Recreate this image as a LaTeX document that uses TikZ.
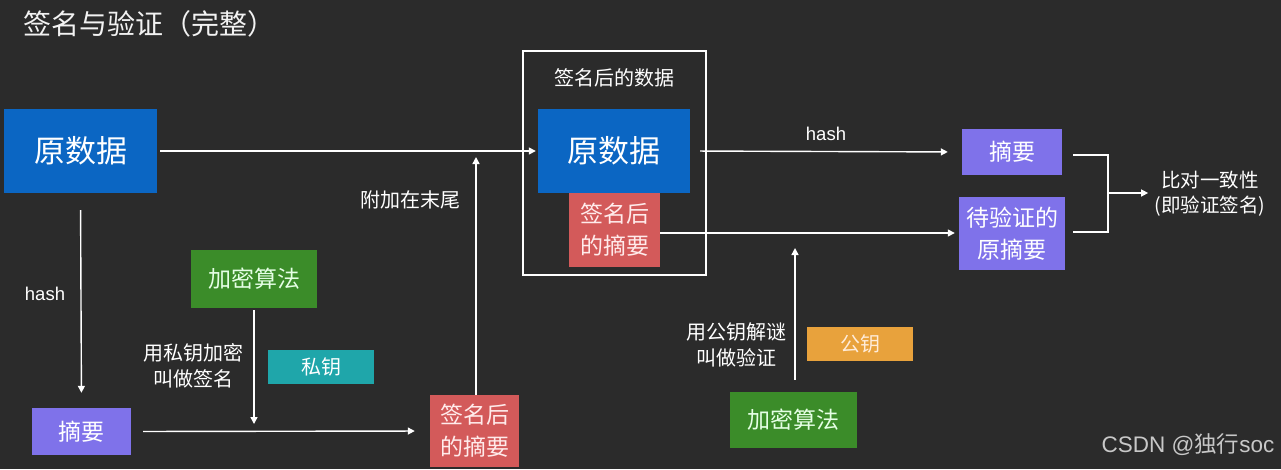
\documentclass[tikz,border=0pt]{standalone}
\usepackage{fontspec}
\setmainfont{Noto Sans CJK SC}
\newfontfamily\latinsans{Liberation Sans}
\usetikzlibrary{arrows.meta}
\definecolor{bg}{HTML}{2B2B2B}
\definecolor{cblue}{HTML}{0B66C3}
\definecolor{cred}{HTML}{D35A5A}
\definecolor{cpurple}{HTML}{7F72EA}
\definecolor{cgreen}{HTML}{3B8C29}
\definecolor{cteal}{HTML}{1FA6AA}
\definecolor{corange}{HTML}{E8A23C}
\definecolor{wm}{HTML}{C8C8C8}
\tikzset{
  box/.style={draw=none, inner sep=0pt, align=center, text=white},
  bluebox/.style={box, fill=cblue, font=\fontsize{31}{34}\selectfont},
  redbox/.style={box, fill=cred, font=\fontsize{23}{32}\selectfont, text=white!92!red},
  purplebox/.style={box, fill=cpurple, font=\fontsize{23}{32}\selectfont},
  greenbox/.style={box, fill=cgreen, font=\fontsize{23}{26}\selectfont, text=white!90!green},
  keybox/.style={box, font=\fontsize{20}{22}\selectfont},
  lbl/.style={text=white, align=center, font=\fontsize{20}{26}\selectfont},
  conn/.style={draw=white, line width=1.4pt, -{Triangle[width=7pt,length=7pt]}},
  plain/.style={draw=white, line width=1.4pt},
}
\begin{document}
\begin{tikzpicture}[x=1pt,y=-1pt]
\fill[bg] (0,0) rectangle (1281,469);
\useasboundingbox (0,0) rectangle (1281,469);

\node[text=white!95!black, font=\fontsize{28}{30}\selectfont] (title) at (149,24) {签名与验证（完整）};

% outline of signed data
\draw[white, line width=1.3pt] (523,51) rectangle (706,275);
\node[lbl] (sdlabel) at (614,78) {签名后的数据};

\node[bluebox, minimum width=153pt, minimum height=84pt] (src) at (80.5,151) {原数据};
\node[bluebox, minimum width=152pt, minimum height=84pt] (src2) at (614,151) {原数据};
\node[redbox, minimum width=91pt, minimum height=74pt] (sig2) at (614.5,230) {签名后\\的摘要};

\node[purplebox, minimum width=100pt, minimum height=46pt] (dig2) at (1012,152) {摘要};
\node[purplebox, minimum width=106pt, minimum height=73pt] (orig) at (1012,233.5) {待验证的\\原摘要};
\node[lbl, font=\fontsize{19.5}{25}\selectfont] (cmp) at (1210,194) {比对一致性\\(即验证签名)};

\node[purplebox, minimum width=99pt, minimum height=47pt] (dig1) at (81.5,431.5) {摘要};
\node[greenbox, minimum width=126pt, minimum height=58pt] (alg1) at (254,279) {加密算法};
\node[keybox, fill=cteal, minimum width=106pt, minimum height=34pt] (pk) at (321,367) {私钥};
\node[redbox, minimum width=89pt, minimum height=72pt] (sig1) at (474.5,431) {签名后\\的摘要};

\node[keybox, fill=corange, minimum width=106pt, minimum height=34pt, text=white!85!orange] (pub) at (860,344) {公钥};
\node[greenbox, minimum width=127pt, minimum height=56pt] (alg2) at (793.5,420) {加密算法};

\node[lbl, font=\latinsans\fontsize{18.5}{22}\selectfont] (hash1) at (45,294) {hash};
\node[lbl, font=\latinsans\fontsize{18.5}{22}\selectfont] (hash2) at (826,134) {hash};
\node[lbl] (attach) at (410,200) {附加在末尾};
\node[lbl] (signtxt) at (193,366) {用私钥加密\\叫做签名};
\node[lbl] (vertxt) at (736,345) {用公钥解谜\\叫做验证};
\node[text=wm, font=\fontsize{22.5}{24}\selectfont] (wmk) at (1188,445) {{\latinsans CSDN @}独行{\latinsans soc}};

% connectors
\draw[conn, shorten <=3pt, shorten >=2pt] (src.east) -- (src2.west);
\draw[conn, shorten <=17pt, shorten >=15pt] (src.south) -- (dig1.north);
\draw[conn, shorten <=12pt, shorten >=15pt] (dig1.east) -- (sig1.west);
\coordinate (a1end) at (254,424);
\draw[conn, shorten <=2pt] (alg1.south) -- (a1end);
\coordinate (attachend) at (476,152);
\draw[conn, shorten >=5pt] (sig1.north -| attachend) -- (attachend);
\draw[conn, shorten <=10pt, shorten >=14pt] (src2.east) -- (dig2.west);
\draw[conn, shorten >=4pt] (sig2.east |- 0,233) -- (orig.west |- 0,233);
\coordinate (verend) at (795,248);
\draw[conn, shorten <=12pt] (alg2.north -| verend) -- (verend);
% bracket
\coordinate (b1) at (1073,155);
\coordinate (b2) at (1108,155);
\coordinate (b3) at (1108,232);
\coordinate (b4) at (1073,232);
\coordinate (bm) at (1108,193);
\draw[plain] (b1) -- (b2) -- (b3) -- (b4);
\draw[conn, shorten >=3pt] (bm) -- (cmp.west |- bm);
\end{tikzpicture}
\end{document}
